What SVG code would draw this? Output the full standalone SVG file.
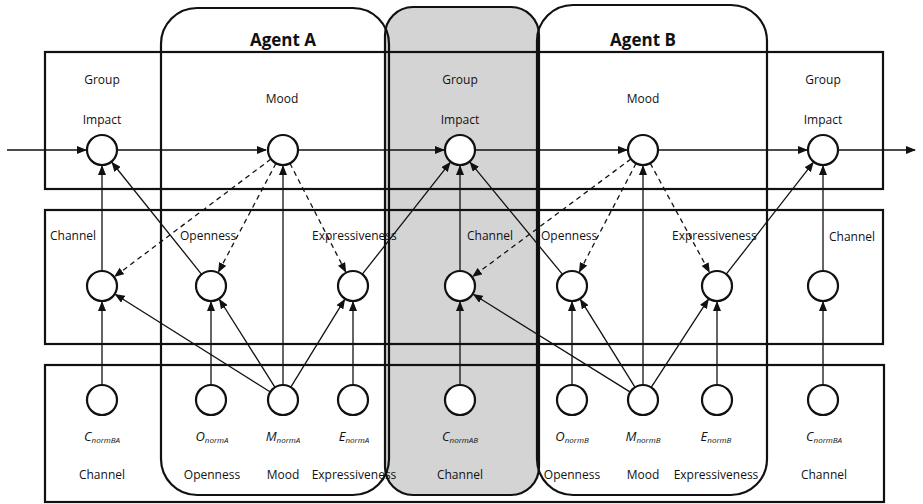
<svg xmlns="http://www.w3.org/2000/svg" width="923" height="504" viewBox="0 0 923 504">
<style>
text{font-family:"Open Sans","DejaVu Sans",sans-serif;font-size:12px;fill:#111;text-anchor:middle}
.title{font-size:17px;font-weight:bold}
.lbl{text-anchor:start}
.sym{font-style:italic;font-size:13px}
.sub{font-size:8px}
.row{fill:none;stroke:#111;stroke-width:2.2}
.agent{fill:none;stroke:#111;stroke-width:2.2}
.node circle{fill:#fff;stroke:#111;stroke-width:2.2}
.c{fill:none;stroke:#111;stroke-width:1.3;marker-end:url(#arr)}
.d{stroke-dasharray:5,4}
</style>
<defs>
<marker id="arr" markerUnits="userSpaceOnUse" markerWidth="10" markerHeight="8" refX="9" refY="4" orient="auto">
<path d="M0,0 L10,4 L0,8 z" fill="#111"/>
</marker>
</defs>
<rect width="923" height="504" fill="#fff"/>
<!-- shaded group column -->
<rect id="shared" x="385" y="7" width="154" height="488" rx="28" fill="#d4d4d4" stroke="#111" stroke-width="2.2"/>
<!-- rows -->
<rect class="row" x="45" y="52" width="838" height="137"/>
<rect class="row" x="45" y="210" width="838" height="134"/>
<rect class="row" x="45" y="365" width="839" height="137"/>
<!-- agents -->
<g id="agentA"><rect class="agent" x="161" y="8" width="228" height="487" rx="36"/><text class="title" x="283" y="46">Agent A</text></g>
<g id="agentB"><rect class="agent" x="537" y="5" width="230" height="490" rx="36"/><text class="title" x="643" y="46">Agent B</text></g>
<!-- row labels -->
<text x="102" y="84">Group</text><text x="102" y="124">Impact</text>
<text x="282" y="103">Mood</text>
<text x="460" y="84">Group</text><text x="460" y="124">Impact</text>
<text x="643" y="103">Mood</text>
<text x="823" y="84">Group</text><text x="823" y="124">Impact</text>
<text class="lbl" x="50" y="240">Channel</text>
<text class="lbl" x="180" y="240">Openness</text>
<text class="lbl" x="312" y="240">Expressiveness</text>
<text class="lbl" x="467" y="240">Channel</text>
<text class="lbl" x="541" y="240">Openness</text>
<text class="lbl" x="672" y="240">Expressiveness</text>
<text class="lbl" x="829" y="241">Channel</text>
<!-- connectors -->
<g id="connectors">
<path class="c" d="M7,150 L86,150"/>
<path class="c" d="M118,150 L266,150"/>
<path class="c" d="M298,150 L444,150"/>
<path class="c" d="M476,150 L627,150"/>
<path class="c" d="M659,150 L807,150"/>
<path class="c" d="M839,150 L915,150"/>
<path class="c" d="M102,385 L102,302"/>
<path class="c" d="M102,271 L102,166"/>
<path class="c" d="M211,385 L211,302"/>
<path class="c" d="M283,385 L283,166"/>
<path class="c" d="M353,385 L353,302"/>
<path class="c" d="M460,385 L460,302"/>
<path class="c" d="M460,271 L460,166"/>
<path class="c" d="M572,385 L572,302"/>
<path class="c" d="M643,385 L643,166"/>
<path class="c" d="M717,385 L717,302"/>
<path class="c" d="M823,385 L823,302"/>
<path class="c" d="M823,271 L823,166"/>
<path class="c" d="M201.6,274.3 L112,162.5"/>
<path class="c" d="M362.3,274.2 L450.1,162.6"/>
<path class="c" d="M270.3,392 L115.5,294.5"/>
<path class="c" d="M275,387.3 L219.5,299.5"/>
<path class="c" d="M290.8,387.2 L344.6,299.6"/>
<path class="c d" d="M271,159 L114.8,276.4"/>
<path class="c d" d="M276,163.3 L218.5,271.9"/>
<path class="c d" d="M289.9,163.3 L345.7,271.8"/>
<path class="c" d="M562.5,274.4 L470.2,162.4"/>
<path class="c" d="M726.2,274.2 L813.2,162.6"/>
<path class="c" d="M630.3,392.1 L473.6,294.5"/>
<path class="c" d="M635.1,387.3 L580.5,299.6"/>
<path class="c" d="M651.2,387.4 L708.3,299.4"/>
<path class="c d" d="M631,158.9 L472.8,276.5"/>
<path class="c d" d="M636.1,163.3 L579.4,271.8"/>
<path class="c d" d="M650.2,163.2 L709.4,272"/>
</g>
<!-- row 1 nodes -->
<g id="groupImpact1" class="node"><circle cx="102" cy="150" r="15"/></g>
<g id="moodA" class="node"><circle cx="283" cy="150" r="15"/></g>
<g id="groupImpact2" class="node"><circle cx="460" cy="150" r="15"/></g>
<g id="moodB" class="node"><circle cx="643" cy="150" r="15"/></g>
<g id="groupImpact3" class="node"><circle cx="823" cy="150" r="15"/></g>
<!-- row 2 nodes -->
<g id="channel1" class="node"><circle cx="102" cy="286" r="15"/></g>
<g id="opennessA" class="node"><circle cx="211" cy="286" r="15"/></g>
<g id="expressA" class="node"><circle cx="353" cy="286" r="15"/></g>
<g id="channel2" class="node"><circle cx="460" cy="286" r="15"/></g>
<g id="opennessB" class="node"><circle cx="572" cy="286" r="15"/></g>
<g id="expressB" class="node"><circle cx="717" cy="286" r="15"/></g>
<g id="channel3" class="node"><circle cx="823" cy="286" r="15"/></g>
<!-- row 3 nodes -->
<g id="cNormBA1" class="node"><circle cx="102" cy="400" r="15"/><text x="102" y="441"><tspan class="sym">C</tspan><tspan class="sub sym" dy="2">normBA</tspan></text><text x="102" y="479">Channel</text></g>
<g id="oNormA" class="node"><circle cx="211" cy="400" r="15"/><text x="212" y="441"><tspan class="sym">O</tspan><tspan class="sub sym" dy="2">normA</tspan></text><text x="212" y="479">Openness</text></g>
<g id="mNormA" class="node"><circle cx="283" cy="400" r="15"/><text x="283" y="441"><tspan class="sym">M</tspan><tspan class="sub sym" dy="2">normA</tspan></text><text x="283" y="479">Mood</text></g>
<g id="eNormA" class="node"><circle cx="353" cy="400" r="15"/><text x="354" y="441"><tspan class="sym">E</tspan><tspan class="sub sym" dy="2">normA</tspan></text><text x="354" y="479">Expressiveness</text></g>
<g id="cNormAB" class="node"><circle cx="460" cy="400" r="15"/><text x="460" y="441"><tspan class="sym">C</tspan><tspan class="sub sym" dy="2">normAB</tspan></text><text x="460" y="479">Channel</text></g>
<g id="oNormB" class="node"><circle cx="572" cy="400" r="15"/><text x="572" y="441"><tspan class="sym">O</tspan><tspan class="sub sym" dy="2">normB</tspan></text><text x="572" y="479">Openness</text></g>
<g id="mNormB" class="node"><circle cx="643" cy="400" r="15"/><text x="643" y="441"><tspan class="sym">M</tspan><tspan class="sub sym" dy="2">normB</tspan></text><text x="643" y="479">Mood</text></g>
<g id="eNormB" class="node"><circle cx="717" cy="400" r="15"/><text x="716" y="441"><tspan class="sym">E</tspan><tspan class="sub sym" dy="2">normB</tspan></text><text x="716" y="479">Expressiveness</text></g>
<g id="cNormBA2" class="node"><circle cx="823" cy="400" r="15"/><text x="824" y="441"><tspan class="sym">C</tspan><tspan class="sub sym" dy="2">normBA</tspan></text><text x="824" y="479">Channel</text></g>
</svg>
